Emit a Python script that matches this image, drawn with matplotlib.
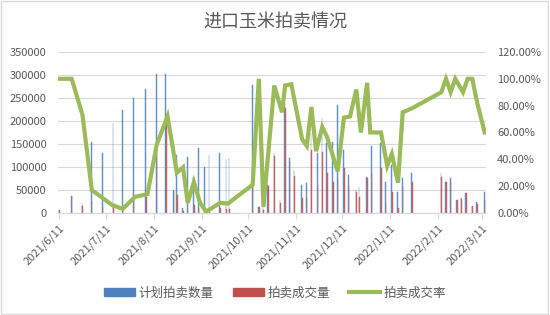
import matplotlib
matplotlib.use("Agg")
from matplotlib import pyplot as plt
import matplotlib.dates as mdates
from matplotlib.patches import Rectangle
from matplotlib.ticker import FuncFormatter, MultipleLocator
from matplotlib.lines import Line2D
import pandas as pd

plt.rcParams["font.family"] = ["Noto Sans CJK SC", "DejaVu Sans"]

TITLE = "进口玉米拍卖情况"
LABELS = ["计划拍卖数量", "拍卖成交量", "拍卖成交率"]

# auction dates with planned / traded quantity (tons)
bar_dates = [
    "2021-06-11", "2021-06-19", "2021-06-26", "2021-07-02", "2021-07-09",
    "2021-07-16", "2021-07-22", "2021-07-29", "2021-08-06", "2021-08-13",
    "2021-08-19", "2021-08-24", "2021-08-26", "2021-08-30", "2021-09-02",
    "2021-09-06", "2021-09-09", "2021-09-13", "2021-09-16", "2021-09-23",
    "2021-09-27", "2021-09-29", "2021-10-14", "2021-10-18", "2021-10-21",
    "2021-10-24", "2021-10-28", "2021-11-01", "2021-11-04", "2021-11-07",
    "2021-11-10", "2021-11-15", "2021-11-18", "2021-11-21", "2021-11-25",
    "2021-11-28", "2021-12-01", "2021-12-05", "2021-12-08", "2021-12-12",
    "2021-12-15", "2021-12-20", "2021-12-22", "2021-12-27", "2021-12-30",
    "2022-01-05", "2022-01-08", "2022-01-12", "2022-01-16", "2022-01-19",
    "2022-01-25", "2022-02-13", "2022-02-16", "2022-02-19", "2022-02-23",
    "2022-02-26", "2022-03-01", "2022-03-05", "2022-03-08", "2022-03-13",
]
planned = [
    7000, 36000, 22000, 154000, 130000,
    196000, 224000, 250000, 270000, 302000,
    302000, 50000, 126000, 10000, 122000,
    78000, 141000, 100000, 126000, 130000,
    117000, 119000, 278000, 13000, 137000,
    61000, 130000, 28000, 240000, 119000,
    93000, 60000, 65000, 174000, 130000,
    206000, 152000, 154000, 235000, 137000,
    82000, 50000, 57000, 78000, 145000,
    152000, 67000, 104000, 45000, 76000,
    87000, 87000, 67000, 76000, 28000,
    35000, 43000, 15000, 24000, 45000,
]
volume = [
    7000, 36000, 16000, 27000, 12000,
    13000, 7000, 30000, 35000, 150000,
    215000, 47000, 38000, 4000, 9000,
    18000, 10000, 3000, 2000, 10000,
    8000, 8000, 58000, 13000, 6000,
    58000, 123000, 21000, 228000, 114000,
    80000, 33000, 33000, 137000, 60000,
    132000, 87000, 67000, 73000, 97000,
    59000, 46000, 34000, 76000, 87000,
    98000, 22000, 45000, 10000, 57000,
    68000, 78000, 67000, 67000, 28000,
    31000, 43000, 15000, 20000, 28000,
]

# transaction rate (%)
rate_dates = [
    "2021-06-11", "2021-06-19", "2021-06-26", "2021-07-02", "2021-07-08",
    "2021-07-15", "2021-07-22", "2021-07-30", "2021-08-07", "2021-08-13",
    "2021-08-20", "2021-08-26", "2021-08-30", "2021-09-02", "2021-09-06",
    "2021-09-10", "2021-09-14", "2021-09-23", "2021-09-28", "2021-10-14",
    "2021-10-18", "2021-10-21", "2021-10-28", "2021-11-02", "2021-11-04",
    "2021-11-08", "2021-11-15", "2021-11-18", "2021-11-21", "2021-11-24",
    "2021-11-28", "2021-12-01", "2021-12-08", "2021-12-12", "2021-12-16",
    "2021-12-20", "2021-12-23", "2021-12-27", "2021-12-29", "2022-01-05",
    "2022-01-09", "2022-01-12", "2022-01-16", "2022-01-19", "2022-01-25",
    "2022-02-13", "2022-02-16", "2022-02-19", "2022-02-22", "2022-02-27",
    "2022-03-02", "2022-03-05", "2022-03-08", "2022-03-13",
]
rate = [
    100, 100, 73, 17, 12,
    6, 3, 12, 14, 51,
    72, 30, 34, 7.5, 23,
    7.5, 1, 7.5, 7, 21,
    100, 4.5, 95, 75, 95,
    96, 55, 50, 79, 46,
    64, 57, 31, 71, 72,
    92, 60, 97, 60, 60,
    35, 44, 22.5, 75, 78,
    90, 100, 90, 100, 90,
    100, 100, 83, 60,
]

tick_dates = pd.date_range("2021-06-01", periods=10, freq="MS") + pd.Timedelta(days=10)

BLUE = "#4F81BD"
RED = "#C0504D"
GREEN = "#9BBB59"
GRAY = "#595959"

fig = plt.figure(figsize=(5.5, 3.15), dpi=100)
ax = fig.add_axes([0.105, 0.324, 0.779, 0.511])
ax2 = ax.twinx()

bx = mdates.date2num(pd.to_datetime(bar_dates))
w = 0.45
ax.bar(bx - w / 2, planned, width=w, color=BLUE, edgecolor=BLUE, linewidth=0.35, alpha=0.8)
ax.bar(bx + w / 2, volume, width=w, color=RED, edgecolor=RED, linewidth=0.35, alpha=0.8)

rx = mdates.date2num(pd.to_datetime(rate_dates))
ax2.plot(rx, [r / 100 for r in rate], color=GREEN, lw=3, solid_joinstyle="miter")

ax.set_xlim(mdates.date2num(pd.Timestamp("2021-06-10")),
            mdates.date2num(pd.Timestamp("2022-03-14")))
ax.set_ylim(0, 350000)
ax2.set_ylim(0, 1.2)
ax.yaxis.set_major_locator(MultipleLocator(50000))
ax2.yaxis.set_major_locator(MultipleLocator(0.2))
ax2.yaxis.set_major_formatter(FuncFormatter(lambda v, p: f"{v * 100:.2f}%"))

ax.set_xticks(mdates.date2num(tick_dates))
ax.set_xticklabels([f"{d.year}/{d.month}/{d.day}" for d in tick_dates],
                   rotation=45, ha="right", rotation_mode="anchor")

ax.grid(axis="y", color="#D9D9D9", lw=0.8)
ax.set_axisbelow(True)
for a in (ax, ax2):
    for s in ("top", "left", "right"):
        a.spines[s].set_visible(False)
    a.spines["bottom"].set_color("#D9D9D9")
    a.tick_params(axis="y", length=0, labelsize=8, colors=GRAY, pad=8)
ax.tick_params(axis="x", length=4, color="#D9D9D9", labelsize=8, labelcolor=GRAY, pad=3)

fig.text(0.5, 0.93, TITLE, ha="center", va="center", fontsize=13, color=GRAY)

handles = [
    Rectangle((0, 0), 1, 1, color=BLUE),
    Rectangle((0, 0), 1, 1, color=RED),
    Line2D([], [], color=GREEN, lw=3),
]
fig.legend(handles, LABELS, loc="center", bbox_to_anchor=(0.5, 0.07), ncol=3,
           frameon=False, fontsize=9, labelcolor=GRAY, handlelength=2.5,
           handleheight=0.6, columnspacing=1.5, handletextpad=0.3)

fig.patches.append(Rectangle((0.002, 0.003), 0.995, 0.993, transform=fig.transFigure,
                             fill=False, edgecolor="#D9D9D9", lw=1))

fig.savefig("out.png", dpi=100)
